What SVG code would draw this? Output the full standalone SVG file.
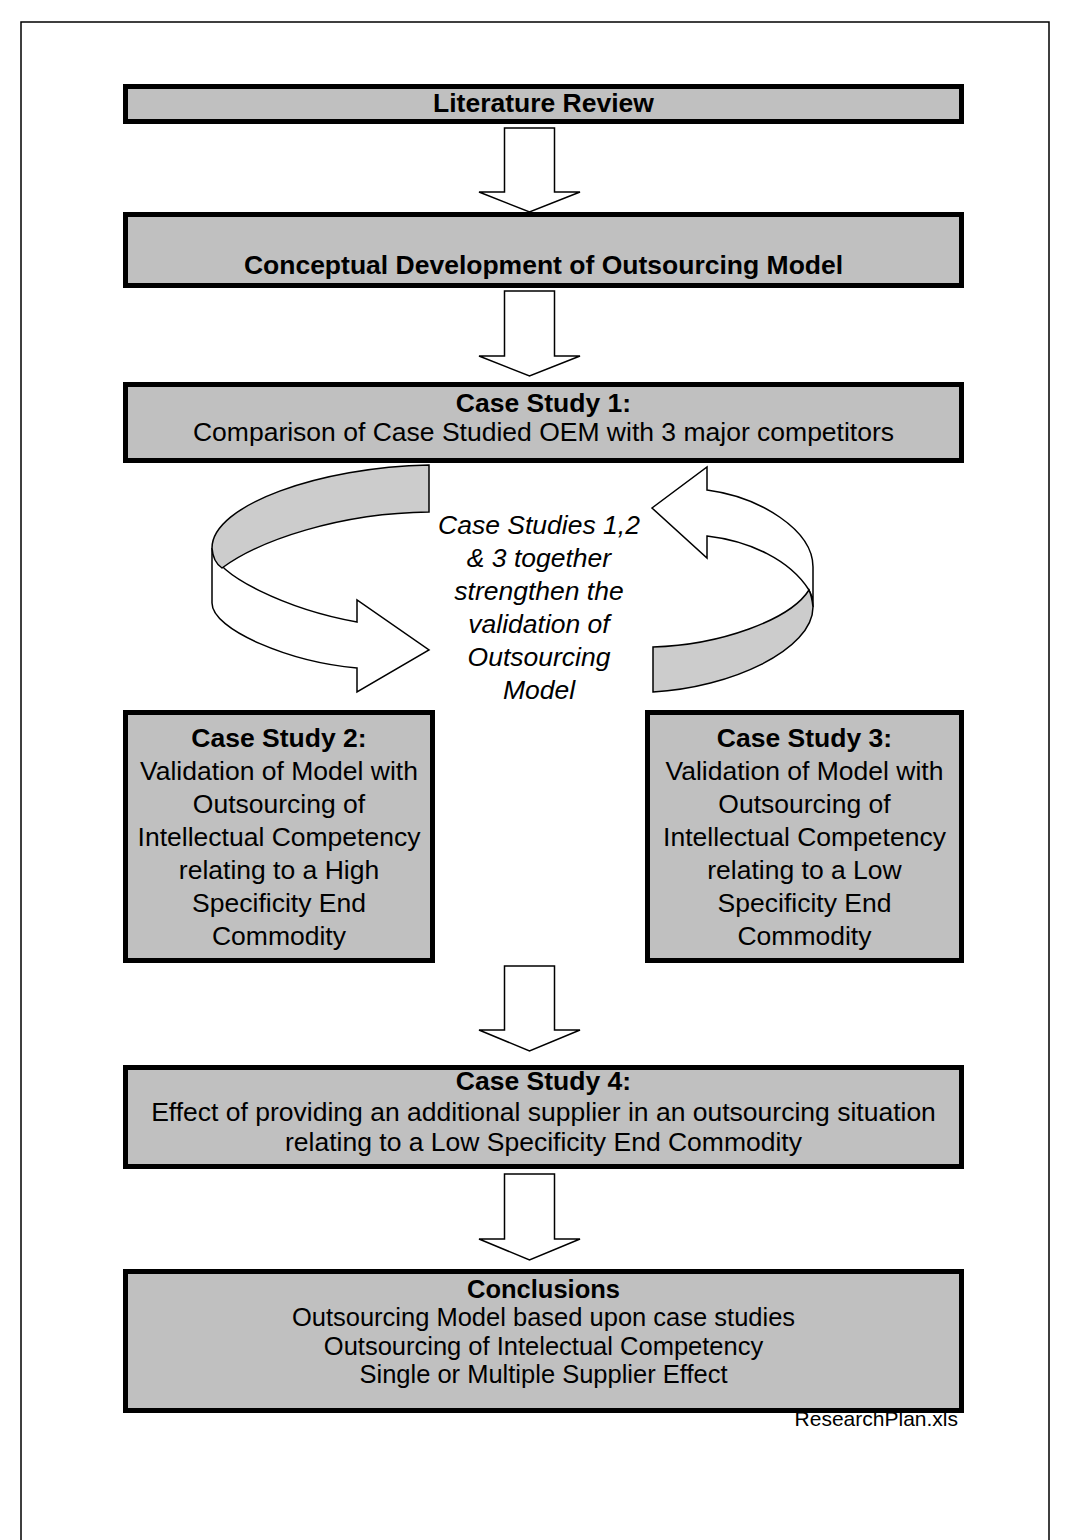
<svg xmlns="http://www.w3.org/2000/svg" width="1070" height="1540" viewBox="0 0 1070 1540">
<style>
.box{fill:#c0c0c0;stroke:#000;stroke-width:5}
.arr{fill:#fff;stroke:#000;stroke-width:1.5;stroke-linejoin:miter}
.band{fill:#cccccc;stroke:#000;stroke-width:1.5}
.t{font-family:"Liberation Sans",Arial,sans-serif;font-size:26.5px;fill:#000;text-anchor:middle}
.s{font-size:25.5px}
.b{font-weight:bold}
.i{font-style:italic}
</style>
<rect x="0" y="0" width="1070" height="1540" fill="#fff"/>
<path d="M21,1545 V22 H1049 V1545" fill="none" stroke="#000" stroke-width="1.5"/>
<g id="connectors">
<polygon class="arr" points="504.5,128 554.5,128 554.5,192 580,192 529.5,212 479,192 504.5,192"/>
<polygon class="arr" points="504.5,291 554.5,291 554.5,356 580,356 529.5,376 479,356 504.5,356"/>
<polygon class="arr" points="504.5,966 554.5,966 554.5,1030 580,1030 529.5,1051 479,1030 504.5,1030"/>
<polygon class="arr" points="504.5,1174 554.5,1174 554.5,1239 580,1239 529.5,1260 479,1239 504.5,1239"/>
<g id="loop-left">
<path class="arr" d="M212,548 L212,603 C212,630 290,662 357,668 L357,692 L429,650 L357,600 L357,622 C290,610 212,575 212,548 Z"/>
<path class="band" d="M429,465 C320,467 212,505 212,548 Q213,562 222,568 C260,540 340,513 429,512 Z"/>
</g>
<g id="loop-right">
<path class="arr" d="M813,607 L813,567 C813,530 760,497 707,490 L707,467 L652,508 L707,558 L707,536 C750,541 790,560 809,590 Q813,597 813,607 Z"/>
<path class="band" d="M653,692 C730,688 813,650 813,607 Q812,597 809,590 C790,620 720,645 653,647 Z"/>
</g>
</g>
<g id="n1"><rect class="box" x="125.5" y="86.5" width="836" height="35"/>
<text class="t b" x="543.5" y="111.5">Literature Review</text></g>
<g id="n2"><rect class="box" x="125.5" y="214.5" width="836" height="71"/>
<text class="t b" x="543.5" y="274">Conceptual Development of Outsourcing Model</text></g>
<g id="n3"><rect class="box" x="125.5" y="384.5" width="836" height="76"/>
<text class="t b" x="543.5" y="411.5">Case Study 1:</text>
<text class="t" x="543.5" y="441">Comparison of Case Studied OEM with 3 major competitors</text></g>
<g id="note">
<text class="t i" x="539" y="534">Case Studies 1,2</text>
<text class="t i" x="539" y="567">&amp; 3 together</text>
<text class="t i" x="539" y="600">strengthen the</text>
<text class="t i" x="539" y="633">validation of</text>
<text class="t i" x="539" y="666">Outsourcing</text>
<text class="t i" x="539" y="699">Model</text>
</g>
<g id="n4"><rect class="box" x="125.5" y="712.5" width="307" height="248"/>
<text class="t b" x="279" y="747">Case Study 2:</text>
<text class="t" x="279" y="780">Validation of Model with</text>
<text class="t" x="279" y="813">Outsourcing of</text>
<text class="t" x="279" y="846">Intellectual Competency</text>
<text class="t" x="279" y="879">relating to a High</text>
<text class="t" x="279" y="912">Specificity End</text>
<text class="t" x="279" y="945">Commodity</text></g>
<g id="n5"><rect class="box" x="647.5" y="712.5" width="314" height="248"/>
<text class="t b" x="804.5" y="747">Case Study 3:</text>
<text class="t" x="804.5" y="780">Validation of Model with</text>
<text class="t" x="804.5" y="813">Outsourcing of</text>
<text class="t" x="804.5" y="846">Intellectual Competency</text>
<text class="t" x="804.5" y="879">relating to a Low</text>
<text class="t" x="804.5" y="912">Specificity End</text>
<text class="t" x="804.5" y="945">Commodity</text></g>
<g id="n6"><rect class="box" x="125.5" y="1067.5" width="836" height="99"/>
<text class="t b" x="543.5" y="1090">Case Study 4:</text>
<text class="t" x="543.5" y="1121">Effect of providing an additional supplier in an outsourcing situation</text>
<text class="t" x="543.5" y="1151">relating to a Low Specificity End Commodity</text></g>
<text x="958" y="1426" font-family="Liberation Sans, Arial, sans-serif" font-size="21" text-anchor="end">ResearchPlan.xls</text>
<g id="n7"><rect class="box" x="125.5" y="1271.5" width="836" height="139"/>
<text class="t s b" x="543.5" y="1297.5">Conclusions</text>
<text class="t s" x="543.5" y="1326">Outsourcing Model based upon case studies</text>
<text class="t s" x="543.5" y="1354.5">Outsourcing of Intelectual Competency</text>
<text class="t s" x="543.5" y="1383">Single or Multiple Supplier Effect</text></g>
</svg>
